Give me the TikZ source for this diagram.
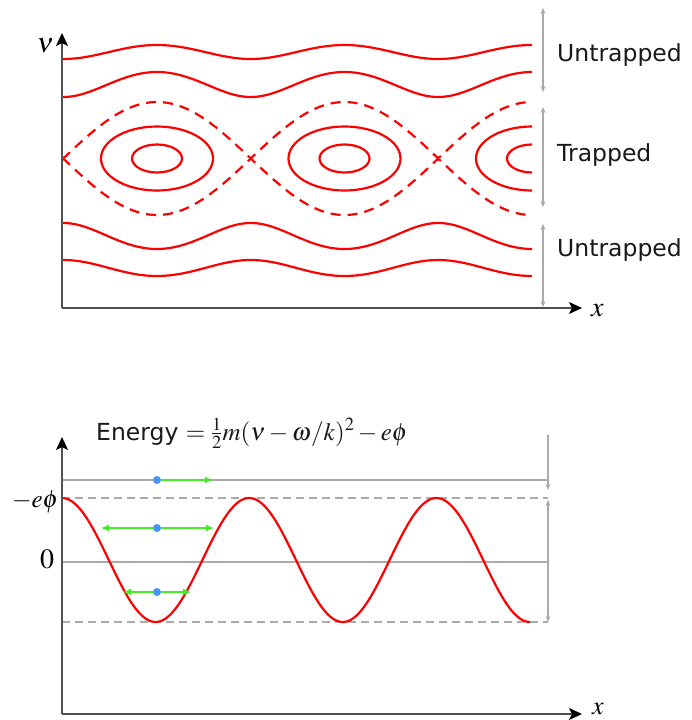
\documentclass[tikz,border=0pt]{standalone}
\usepackage{mathptmx}
\usepackage[no-math]{fontspec}
\setmainfont{DejaVu Sans}
\usetikzlibrary{arrows.meta}
\definecolor{garrow}{RGB}{70,235,40}
\definecolor{bdot}{RGB}{70,150,250}
\definecolor{axisgray}{RGB}{80,80,80}
\definecolor{lightgray}{RGB}{170,170,170}
\begin{document}
\begin{tikzpicture}[x=1pt,y=-1pt,
  curve/.style={red, line width=2.2pt},
  sepline/.style={red, line width=2.2pt, dash pattern=on 10pt off 7pt},
  axisline/.style={draw=axisgray, line width=1.4pt, -{Stealth[length=13pt,width=12pt,inset=3pt,black]}},
  bracket/.style={draw=lightgray, line width=1.3pt},
  btip/.tip={Stealth[length=6pt,width=5pt,lightgray]},
  level/.style={draw=lightgray, line width=1.2pt},
  dlevel/.style={draw=lightgray, line width=1.2pt, dash pattern=on 8pt off 5pt},
  garr/.style={draw=garrow, line width=1.3pt},
  gtip/.tip={Latex[length=8pt,width=7pt,garrow]},
  dot/.style={circle, fill=bdot, inner sep=0pt, minimum size=8pt},
  lbl/.style={font=\fontsize{23.5}{28}\selectfont, anchor=base west, inner sep=0pt, text=black!90},
  mlbl/.style={inner sep=0pt, font=\fontsize{28}{32}\selectfont}]
\useasboundingbox (0,0) rectangle (692,720);

% ---------------- top panel ----------------
\begin{scope}
\clip (62,0) rectangle (532,320);
\draw[curve] plot[domain=62:532, samples=160] (\x, {158.5 - 10*sqrt(99.00 + 29.82*(0.5+0.5*cos((\x-157)/187.5*360)))});
\draw[curve] plot[domain=62:532, samples=160] (\x, {158.5 - 10*sqrt(37.82 + 37.00*(0.5+0.5*cos((\x-157)/187.5*360)))});
\draw[curve] plot[domain=62:532, samples=160] (\x, {158.5 + 10*sqrt(41.60 + 40.30*(0.5+0.5*cos((\x-157)/187.5*360)))});
\draw[curve] plot[domain=62:532, samples=160] (\x, {158.5 + 10*sqrt(103.02 + 35.04*(0.5+0.5*cos((\x-157)/187.5*360)))});
\draw[sepline] plot[domain=62:532, samples=200] (\x, {158.5 - 56.5*abs(cos((\x-157)/187.5*180))});
\draw[sepline] plot[domain=62:532, samples=200] (\x, {158.5 + 56.5*abs(cos((\x-157)/187.5*180))});
\foreach \c in {157,344.5,532}{
  \draw[curve] (\c,158.5) ellipse [x radius=25, y radius=14];
  \draw[curve] (\c,158.5) ellipse [x radius=56, y radius=32];
}
\end{scope}

\coordinate (o1) at (62,308);
\coordinate (ytop1) at (62,33);
\coordinate (xend1) at (582,308);
\draw[axisline] (o1) -- (ytop1);
\draw[axisline] (o1) -- (xend1);
\node[mlbl, anchor=base east] (nu) at (54,52) {$\nu$};
\node[mlbl, anchor=base west] (x1) at (591,316) {$x$};

\coordinate (b1) at (543,8);
\coordinate (b2) at (543,92);
\coordinate (b3) at (543,107);
\coordinate (b4) at (543,207);
\coordinate (b5) at (543,224);
\coordinate (b6) at (543,307);
\draw[bracket, btip-btip] (b1) -- (b2);
\draw[bracket, btip-btip] (b3) -- (b4);
\draw[bracket, btip-btip] (b5) -- (b6);

\node[lbl] (u1) at (557,61) {Untrapped};
\node[lbl] (t1) at (557,161) {Trapped};
\node[lbl] (u2) at (557,256) {Untrapped};

% ---------------- bottom panel ----------------
\node[lbl] (en) at (96,440) {Energy {\fontsize{25}{30}\selectfont$=\frac{1}{2}m(\nu-\omega/k)^2-e\phi$}};

\coordinate (h1a) at (62,480); \coordinate (h1b) at (548,480);
\coordinate (h2a) at (62,498); \coordinate (h2b) at (548,498);
\coordinate (h3a) at (62,562); \coordinate (h3b) at (548,562);
\coordinate (h4a) at (62,622); \coordinate (h4b) at (548,622);
\draw[level] (h1a) -- (h1b);
\draw[dlevel] (h2a) -- (h2b);
\draw[level] (h3a) -- (h3b);
\draw[dlevel] (h4a) -- (h4b);

\coordinate (c1) at (548,435);
\coordinate (c2) at (548,490);
\coordinate (c3) at (548,500);
\coordinate (c4) at (548,622);
\draw[bracket, -btip] (c1) -- (c2);
\draw[bracket, btip-btip] (c3) -- (c4);

\draw[curve] plot[domain=62:530, samples=200] (\x, {560 - 62*cos((\x-62)/187.2*360)});

\coordinate (o2) at (62,714);
\coordinate (ytop2) at (62,437);
\coordinate (xend2) at (582,714);
\draw[axisline] (o2) -- (ytop2);
\draw[axisline] (o2) -- (xend2);
\node[inner sep=0pt, anchor=base west, font=\fontsize{26}{30}\selectfont] (x2) at (592,714) {$x$};
\node[inner sep=0pt, anchor=base west, font=\fontsize{25}{30}\selectfont] (mephi) at (12,507) {$-e\phi$};
\node[inner sep=0pt, anchor=base west, font=\fontsize{28}{32}\selectfont] (zero) at (40,568) {$0$};

% particles
\coordinate (g1r) at (213,480);
\coordinate (g2l) at (101,528); \coordinate (g2r) at (214,528);
\coordinate (g3l) at (123,592); \coordinate (g3r) at (191,592);
\draw[garr, -gtip] (157,480) -- (g1r);
\draw[garr, gtip-gtip] (g2l) -- (g2r);
\draw[garr, gtip-gtip] (g3l) -- (g3r);
\node[dot] (p1) at (157,480) {};
\node[dot] (p2) at (157,528) {};
\node[dot] (p3) at (157,592) {};
\end{tikzpicture}
\end{document}
